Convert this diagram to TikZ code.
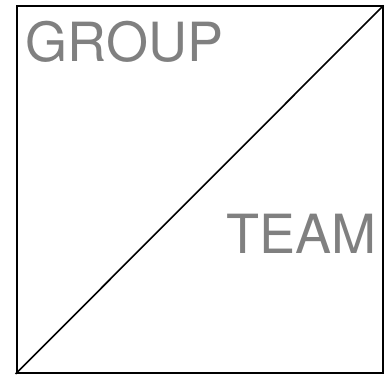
\documentclass[tikz,border=0pt]{standalone}
\usepackage{fontspec}
\setmainfont{TeX Gyre Heros}
\usepackage{xcolor}
\usepackage{tikz}
\usetikzlibrary{positioning}

\begin{document}
\begin{tikzpicture}[
    x=1pt, y=1pt,
    box/.style={draw, line width=2pt, minimum width=366pt, minimum height=366.5pt, inner sep=0pt},
    lbl/.style={font=\fontsize{54}{54}\selectfont, text=gray, inner sep=0pt},
]
    \useasboundingbox (0,0) rectangle (392,378);

    % Square split on the diagonal
    \node[box] (frame) at (199.5, 188.25) {};
    \draw[line width=1.6pt] (frame.south west) -- (frame.north east);

    % Labels
    \node[lbl, anchor=base west] (group) at (25.6, 316) {GROUP};
    \node[lbl, anchor=base east] (team) at (377, 124) {TEAM};
\end{tikzpicture}
\end{document}
